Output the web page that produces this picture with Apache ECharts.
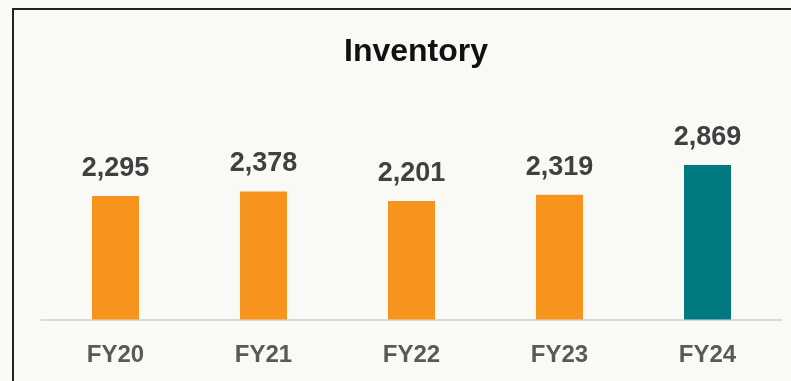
<!DOCTYPE html>
<html>
<head>
<meta charset="utf-8">
<script src="https://cdn.jsdelivr.net/npm/echarts@6/dist/echarts.min.js"></script>
<style>
  html, body { margin: 0; padding: 0; background: #f7f8f3; }
  #chart { width: 791px; height: 381px; }
</style>
</head>
<body>
<div id="chart"></div>
<script>
// Inventory by fiscal year
const categories = ['FY20', 'FY21', 'FY22', 'FY23', 'FY24'];
const inventory = [2295, 2378, 2201, 2319, 2869];

const ORANGE = '#f7941d';
const TEAL = '#007a80';
const lastIndex = inventory.length - 1;

const chart = echarts.init(document.getElementById('chart'), null, { renderer: 'canvas' });

chart.setOption({
  backgroundColor: '#f9faf5',
  animation: false,
  title: {
    text: 'Inventory',
    left: 411,
    top: 31,
    textAlign: 'center',
    textStyle: {
      fontFamily: 'Liberation Sans, Arial, sans-serif',
      fontWeight: 'bold',
      fontSize: 32,
      color: '#111111'
    }
  },
  graphic: [{
    type: 'rect',
    shape: { x: 13, y: 9, width: 820, height: 420 },
    style: { fill: 'none', stroke: '#222222', lineWidth: 2 },
    silent: true,
    z: 100
  }],
  grid: { left: 41.5, right: 9.5, top: 158, bottom: 61.5 },
  xAxis: {
    type: 'category',
    data: categories,
    axisLine: { lineStyle: { color: '#d9d9d9', width: 2 } },
    axisTick: { show: false },
    axisLabel: {
      margin: 24,
      color: '#595959',
      fontFamily: 'Liberation Sans, Arial, sans-serif',
      fontWeight: 'bold',
      fontSize: 24
    }
  },
  yAxis: {
    type: 'value',
    min: 0,
    max: 3000,
    show: false,
    splitLine: { show: false }
  },
  series: [{
    type: 'bar',
    barWidth: 47,
    data: inventory.map((v, i) => ({
      value: v,
      itemStyle: { color: i === lastIndex ? TEAL : ORANGE }
    })),
    label: {
      show: true,
      position: 'top',
      distance: 14,
      formatter: p => p.value.toLocaleString('en-US'),
      color: '#404040',
      fontFamily: 'Liberation Sans, Arial, sans-serif',
      fontWeight: 'bold',
      fontSize: 27
    }
  }]
});
</script>
</body>
</html>
